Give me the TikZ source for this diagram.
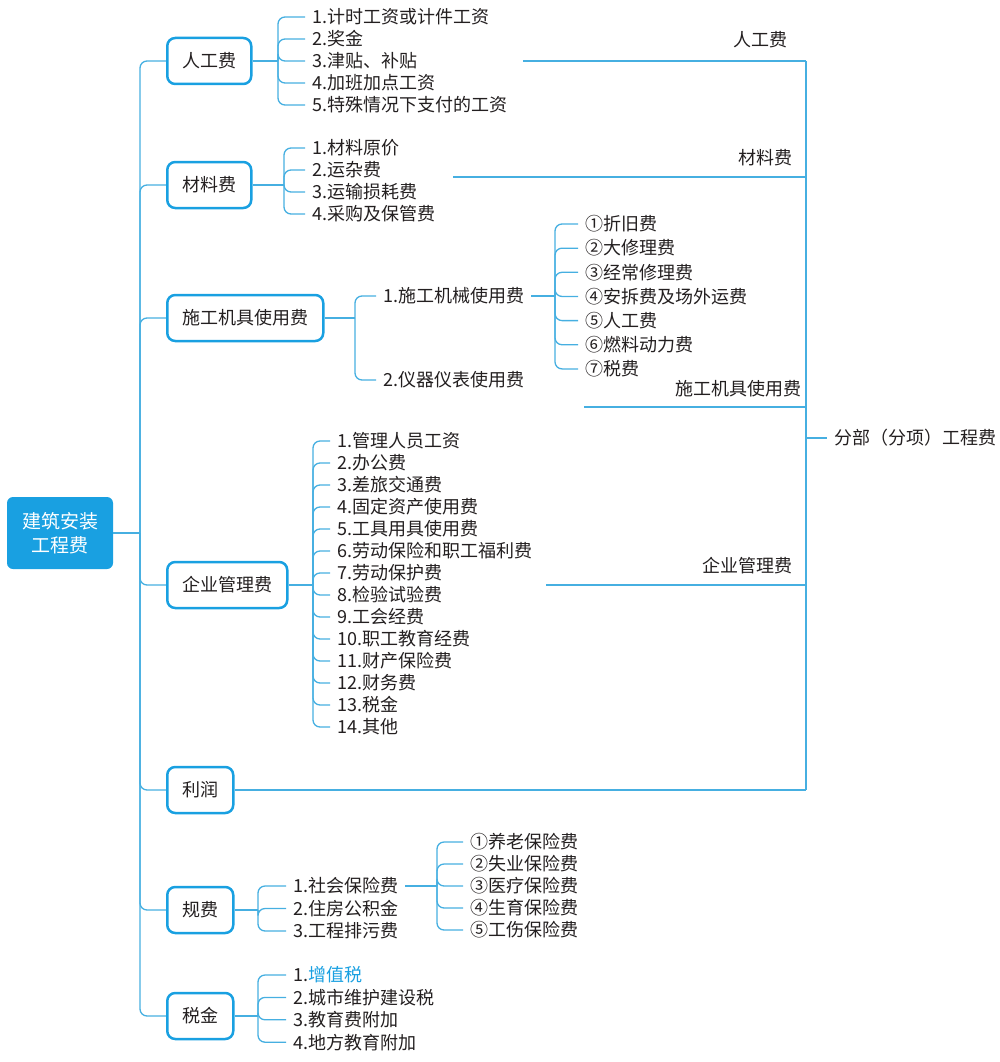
\documentclass[tikz,border=0pt]{standalone}
\usepackage{fontspec}
\newfontfamily\cjk{Noto Sans CJK SC}
\usetikzlibrary{positioning}
\definecolor{lineblue}{RGB}{70,175,225}
\definecolor{boxblue}{RGB}{25,160,225}
\definecolor{txt}{RGB}{35,31,32}
\tikzset{
  box/.style={draw=boxblue,line width=2.5pt,rounded corners=8pt,inner xsep=15pt,minimum height=46pt,text=txt,anchor=west},
  item/.style={anchor=west,inner xsep=7pt,inner ysep=0pt,text=txt},
  conn/.style={draw=lineblue,line width=1.3pt,rounded corners=7pt},
  tag/.style={anchor=east,inner sep=0pt,text=txt}
}

\begin{document}
\begin{tikzpicture}[x=1pt,y=-1pt,font=\cjk\fontsize{18}{20}\selectfont]
 \useasboundingbox (0,0) rectangle (1000,1062);
 % root and first level
 \node[fill=boxblue,rounded corners=6pt,text=white,align=center,minimum width=106pt,minimum height=72pt,inner sep=0pt,font=\cjk\fontsize{19}{24}\selectfont] (root) at (60,533) {建筑安装\\工程费};
 \coordinate (trunk) at (140,533);
 \node[box] (rg) at (166,61) {人工费};
 \node[box] (cl) at (166,185) {材料费};
 \node[box] (jj) at (166,318) {施工机具使用费};
 \node[box] (gl) at (166,585) {企业管理费};
 \node[box] (lr) at (166,790) {利润};
 \node[box] (gf) at (166,910) {规费};
 \node[box] (sj) at (166,1016) {税金};
 \draw[conn] (root.east) -- (trunk);
 \foreach \n in {rg,cl,jj,gl,lr,gf,sj}
   \draw[conn] (trunk) |- (\n.west);

 % 人工费
 \foreach \t [count=\i] in {1.计时工资或计件工资,2.奖金,3.津贴、补贴,4.加班加点工资,5.特殊情况下支付的工资}
   \node[item] (rg\i) at (305,{17+22*(\i-1)}) {\t};
 \coordinate (rgb) at (278,61);
 \draw[conn] (rg.east) -- (rgb);
 \foreach \i in {1,...,5}
   \draw[conn] (rgb) |- (rg\i.west);

 % 材料费
 \foreach \t [count=\i] in {1.材料原价,2.运杂费,3.运输损耗费,4.采购及保管费}
   \node[item] (cl\i) at (305,{148+22*(\i-1)}) {\t};
 \coordinate (clb) at (284,185);
 \draw[conn] (cl.east) -- (clb);
 \foreach \i in {1,...,4}
   \draw[conn] (clb) |- (cl\i.west);

 % 施工机具使用费
 \node[item] (jj1) at (376,296) {1.施工机械使用费};
 \node[item] (jj2) at (376,380) {2.仪器仪表使用费};
 \coordinate (jjb) at (355,318);
 \draw[conn] (jj.east) -- (jjb);
 \foreach \i in {1,2}
   \draw[conn] (jjb) |- (jj\i.west);
 \foreach \t [count=\i] in {①折旧费,②大修理费,③经常修理费,④安拆费及场外运费,⑤人工费,⑥燃料动力费,⑦税费}
   \node[item] (jx\i) at (578,{224+24.15*(\i-1)}) {\t};
 \coordinate (jxb) at (555,296);
 \draw[conn] (jj1.east) -- (jxb);
 \foreach \i in {1,...,7}
   \draw[conn] (jxb) |- (jx\i.west);

 % 企业管理费
 \foreach \t [count=\i] in {1.管理人员工资,2.办公费,3.差旅交通费,4.固定资产使用费,5.工具用具使用费,6.劳动保险和职工福利费,7.劳动保护费,8.检验试验费,9.工会经费,10.职工教育经费,11.财产保险费,12.财务费,13.税金,14.其他}
   \node[item] (gl\i) at (330,{441+22*(\i-1)}) {\t};
 \coordinate (glb) at (313,585);
 \draw[conn] (gl.east) -- (glb);
 \foreach \i in {1,...,14}
   \draw[conn] (glb) |- (gl\i.west);

 % 规费
 \foreach \t [count=\i] in {1.社会保险费,2.住房公积金,3.工程排污费}
   \node[item] (gf\i) at (286,{886+22.5*(\i-1)}) {\t};
 \coordinate (gfb) at (258,910);
 \draw[conn] (gf.east) -- (gfb);
 \foreach \i in {1,2,3}
   \draw[conn] (gfb) |- (gf\i.west);
 \foreach \t [count=\i] in {①养老保险费,②失业保险费,③医疗保险费,④生育保险费,⑤工伤保险费}
   \node[item] (sb\i) at (463,{842+22*(\i-1)}) {\t};
 \coordinate (sbb) at (437,886);
 \draw[conn] (gf1.east) -- (sbb);
 \foreach \i in {1,...,5}
   \draw[conn] (sbb) |- (sb\i.west);

 % 税金
 \foreach \t [count=\i] in {1.\textcolor{boxblue}{增值税},2.城市维护建设税,3.教育费附加,4.地方教育附加}
   \node[item] (sj\i) at (286,{975+22.4*(\i-1)}) {\t};
 \coordinate (sjb) at (258,1016);
 \draw[conn] (sj.east) -- (sjb);
 \foreach \i in {1,...,4}
   \draw[conn] (sjb) |- (sj\i.west);

 % right side
 \coordinate (bus1) at (806,61);
 \coordinate (bus2) at (806,790);
 \coordinate (busm) at (806,438);
 \coordinate (rgl) at (523,61);
 \coordinate (cll) at (453,177);
 \coordinate (clr) at (806,177);
 \coordinate (jjl) at (584,407);
 \coordinate (jjr) at (806,407);
 \coordinate (gll) at (546,585);
 \coordinate (glr) at (806,585);
 \draw[conn] (bus1) -- (bus2);
 \draw[conn] (rgl) -- (bus1);
 \draw[conn] (cll) -- (clr);
 \draw[conn] (jjl) -- (jjr);
 \draw[conn] (gll) -- (glr);
 \draw[conn] (lr.east) -- (bus2);
 \node[tag] (rgt) at (788,40) {人工费};
 \node[tag] (clt) at (793,158) {材料费};
 \node[tag] (jjt) at (802,389) {施工机具使用费};
 \node[tag] (glt) at (793,566) {企业管理费};
 \node[item] (fb) at (827,438) {分部（分项）工程费};
 \draw[conn] (busm) -- (fb.west);
\end{tikzpicture}
\end{document}
